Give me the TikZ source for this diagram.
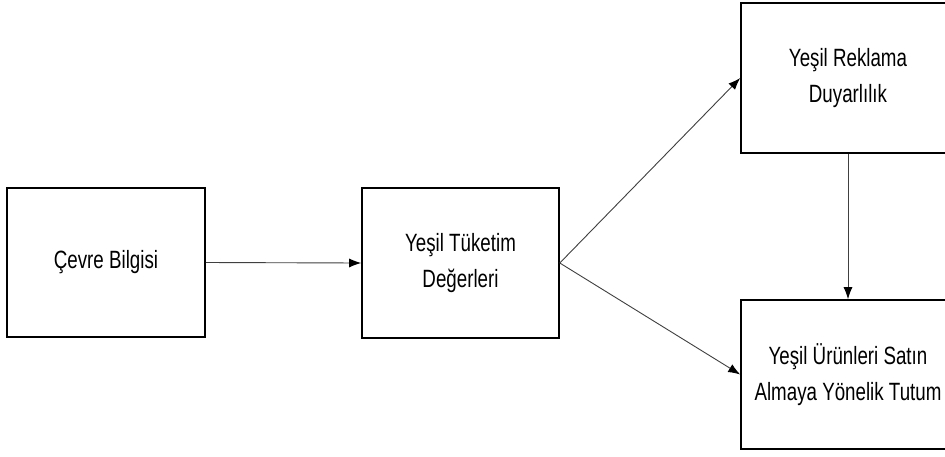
\documentclass[tikz,border=0pt]{standalone}
\usepackage{fontspec}
\setmainfont{Liberation Sans}[FakeStretch=0.75]
\usetikzlibrary{arrows.meta}
\begin{document}
\begin{tikzpicture}[x=1pt,y=-1pt,
  box/.style={draw=black, line width=1.6pt, fill=white, align=center,
    inner sep=0pt, text=black,
    font=\fontsize{25}{36}\selectfont},
  link/.style={draw=black!75, line width=0.9pt,
    -{Latex[length=12pt,width=9pt,black]}}]
  \clip (0,0) rectangle (945,456);
  \fill[white] (0,0) rectangle (945,456);

  % boxes
  \node[box, minimum width=198pt, minimum height=149pt] (cevre) at (106,262.5) {Çevre Bilgisi};
  \node[box, minimum width=197pt, minimum height=150pt] (tuketim) at (460.5,263) {Yeşil Tüketim\\Değerleri};
  \node[box, minimum width=214pt, minimum height=150pt] (reklam) at (848,78) {Yeşil Reklama\\Duyarlılık};
  \node[box, minimum width=214pt, minimum height=149pt] (tutum) at (848,374.5) {Yeşil Ürünleri Satın\\Almaya Yönelik Tutum};

  % connectors
  \draw[link] (cevre.east) -- (tuketim.west);
  \draw[link] (tuketim.east) -- (reklam.west);
  \draw[link] (tuketim.east) -- (tutum.west);
  \draw[link] (reklam.south) -- (tutum.north);
\end{tikzpicture}
\end{document}
